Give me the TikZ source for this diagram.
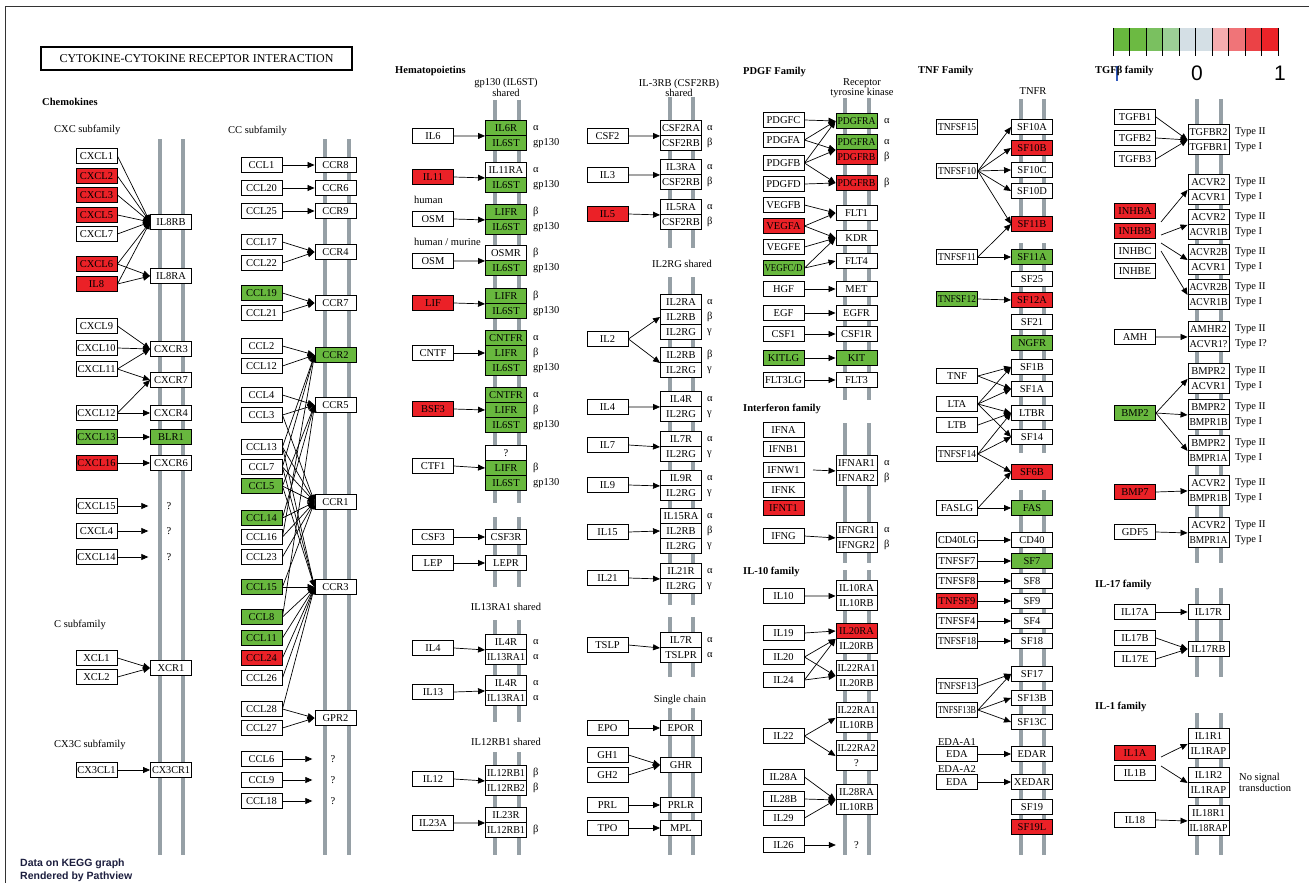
\documentclass[tikz,border=0pt]{standalone}
\usepackage{fontspec}
\setmainfont{Liberation Serif}
\newfontfamily\notefont{Liberation Sans}
\usepackage{graphicx}
\usetikzlibrary{arrows.meta}

\definecolor{up}{RGB}{235,33,39}
\definecolor{dn}{RGB}{104,184,62}
\colorlet{nc}{white}
\definecolor{membrane}{RGB}{150,160,166}
\definecolor{footnav}{RGB}{28,30,62}
\definecolor{legmark}{RGB}{50,90,190}
\definecolor{leg0}{RGB}{104,184,62}
\definecolor{leg1}{RGB}{108,186,66}
\definecolor{leg2}{RGB}{122,192,96}
\definecolor{leg3}{RGB}{156,206,150}
\definecolor{leg4}{RGB}{212,223,229}
\definecolor{leg5}{RGB}{212,223,229}
\definecolor{leg6}{RGB}{245,172,174}
\definecolor{leg7}{RGB}{240,116,120}
\definecolor{leg8}{RGB}{235,66,70}
\definecolor{leg9}{RGB}{235,35,40}

\newsavebox\genelbl
\newcommand\fitlabel[1]{\sbox\genelbl{#1}\ifdim\wd\genelbl>38pt\relax\resizebox{38pt}{\height}{\usebox\genelbl}\else\usebox\genelbl\fi}

\tikzset{
  gene/.style={draw, line width=0.9pt, minimum width=41pt, minimum height=15pt, inner sep=0pt, font=\fontsize{10.5}{11}\selectfont},
  unknown/.style={minimum width=41pt, minimum height=15pt, inner sep=0pt, font=\fontsize{10.5}{11}\selectfont},
  txt/.style={inner sep=0pt, font=\fontsize{10.5}{11}\selectfont},
  family/.style={inner sep=0pt, anchor=west, font=\fontsize{10.5}{11}\selectfont\bfseries},
  conn/.style={line width=0.7pt, -{Triangle[length=7pt,width=6pt]}},
  mem/.style={membrane, line width=4pt},
}

\begin{document}
\begin{tikzpicture}[x=1pt,y=-1pt]
\useasboundingbox (0,0) rectangle (1309,883);
\draw[line width=1pt, black!80] (5,883) -- (5,7) -- (1309,7);

% membranes
\foreach \xl/\xr/\ya/\yb in {160/183/139/855, 325/349/139/855, 495/519/100/503, 495/519/517/587, 495/519/620/722, 495/519/752/855, 670/693/97/248, 670/693/277/605, 670/693/617/677, 670/693/708/855, 845/869/98/400, 845/869/423/563, 845/869/570/855, 1021/1044/99/230, 1021/1044/243/453, 1021/1044/490/855, 1197/1221/99/563, 1197/1221/588/677, 1197/1221/713/855}
  \draw[mem] (\xl,\ya) -- (\xl,\yb) (\xr,\ya) -- (\xr,\yb);

\node[draw, line width=1.6pt, minimum width=311pt, minimum height=23pt, inner sep=0pt, font=\fontsize{12}{13}\selectfont] (title) at (196.5,58.5) {CYTOKINE-CYTOKINE RECEPTOR INTERACTION};

% legend
\foreach \i in {0,...,9}
  \fill[leg\i] ({1113+16.5*\i},28) rectangle ({1129.5+16.5*\i},51);
\foreach \i in {0,...,10}
  \draw[line width=0.8pt] ({1113+16.5*\i},28) -- ({1113+16.5*\i},56);
\draw[line width=1.3pt, legmark] (1117,66) -- (1117,81);
\node[inner sep=0pt, font=\notefont\fontsize{21}{22}\selectfont] (legzero) at (1197,73) {0};
\node[inner sep=0pt, font=\notefont\fontsize{21}{22}\selectfont] (legone) at (1280,73) {1};

% chemokines
\node[family] (chemo) at (42,102) {Chemokines};
\node[txt, anchor=west] (cxcfam) at (54,130) {CXC subfamily};
\node[txt, anchor=west] (cfam) at (54,625) {C subfamily};
\node[txt, anchor=west] (cx3cfam) at (54,745) {CX3C subfamily};
\foreach \nm/\yy/\kk in {CXCL1/156/nc, CXCL2/176/up, CXCL3/195/up, CXCL5/215/up, CXCL7/234/nc, CXCL6/264/up, IL8/284/up, CXCL9/326/nc, CXCL10/348/nc, CXCL11/369/nc, CXCL12/413/nc, CXCL13/437/dn, CXCL16/463/up, CXCL15/506/nc, CXCL4/531/nc, CXCL14/557/nc, XCL1/658/nc, XCL2/677/nc, CX3CL1/770/nc}
  \node[gene, fill=\kk] (\nm) at (96.5,\yy) {\fitlabel{\nm}};
\foreach \nm/\yy/\kk in {IL8RB/222/nc, IL8RA/276/nc, CXCR3/349/nc, CXCR7/380/nc, CXCR4/413/nc, BLR1/437/dn, CXCR6/463/nc, XCR1/668/nc, CX3CR1/770/nc}
  \node[gene, fill=\kk] (\nm) at (171,\yy) {\fitlabel{\nm}};
\foreach \nm/\yy in {cxq1/506, cxq2/531, cxq3/557}
  \node[unknown] (\nm) at (169,\yy) {?};
\foreach \a/\b in {CXCL1/IL8RB, CXCL2/IL8RB, CXCL3/IL8RB, CXCL5/IL8RB, CXCL7/IL8RB, CXCL6/IL8RB, IL8/IL8RB, CXCL6/IL8RA, IL8/IL8RA, CXCL9/CXCR3, CXCL10/CXCR3, CXCL11/CXCR3, CXCL11/CXCR7, CXCL12/CXCR7, CXCL12/CXCR4, CXCL13/BLR1, CXCL16/CXCR6, CXCL15/cxq1, CXCL4/cxq2, CXCL14/cxq3, XCL1/XCR1, XCL2/XCR1, CX3CL1/CX3CR1}
  \draw[conn] (\a.east) -- (\b.west);

% CC subfamily
\node[txt, anchor=west] (ccfam) at (228,131) {CC subfamily};
\foreach \nm/\yy/\kk in {CCL1/165/nc, CCL20/188/nc, CCL25/211/nc, CCL17/242/nc, CCL22/263/nc, CCL19/293/dn, CCL21/313/nc, CCL2/346/nc, CCL12/366/nc, CCL4/395/nc, CCL3/415/nc, CCL13/447/nc, CCL7/467/nc, CCL5/486/dn, CCL14/518/dn, CCL16/537/nc, CCL23/557/nc, CCL15/587/dn, CCL8/617/dn, CCL11/638/dn, CCL24/658/up, CCL26/678/nc, CCL28/709/nc, CCL27/728/nc, CCL6/759/nc, CCL9/780/nc, CCL18/801/nc}
  \node[gene, fill=\kk] (\nm) at (261.5,\yy) {\fitlabel{\nm}};
\foreach \nm/\yy/\kk in {CCR8/165/nc, CCR6/188/nc, CCR9/211/nc, CCR4/252/nc, CCR7/303/nc, CCR2/355/dn, CCR5/405/nc, CCR1/502/nc, CCR3/587/nc, GPR2/718/nc}
  \node[gene, fill=\kk] (\nm) at (335.5,\yy) {\fitlabel{\nm}};
\foreach \nm/\yy in {ccq1/759, ccq2/780, ccq3/801}
  \node[unknown] (\nm) at (333,\yy) {?};
\foreach \a/\b in {CCL1/CCR8, CCL20/CCR6, CCL25/CCR9, CCL17/CCR4, CCL22/CCR4, CCL19/CCR7, CCL21/CCR7, CCL2/CCR2, CCL12/CCR2, CCL13/CCR2, CCL7/CCR2, CCL16/CCR2, CCL4/CCR5, CCL3/CCR5, CCL5/CCR5, CCL8/CCR5, CCL14/CCR5, CCL3/CCR1, CCL13/CCR1, CCL7/CCR1, CCL5/CCR1, CCL14/CCR1, CCL16/CCR1, CCL23/CCR1, CCL15/CCR1, CCL13/CCR3, CCL7/CCR3, CCL5/CCR3, CCL15/CCR3, CCL8/CCR3, CCL11/CCR3, CCL24/CCR3, CCL26/CCR3, CCL28/CCR3, CCL28/GPR2, CCL27/GPR2, CCL6/ccq1, CCL9/ccq2, CCL18/ccq3}
  \draw[conn] (\a.east) -- (\b.west);

% hematopoietins
\node[family] (hemato) at (395,71) {Hematopoietins};
\node[txt] (gpshared) at (506,83) {gp130 (IL6ST)};
\node[txt] (gpshared2) at (506,93) {shared};
\node[txt, anchor=west] (human) at (414,200) {human};
\node[txt, anchor=west] (humur) at (414,242) {human / murine};
\node[txt] (il13sh) at (506,607) {IL13RA1 shared};
\node[txt] (il12sh) at (506,742) {IL12RB1 shared};
\foreach \nm/\yy/\kk/\lab in {IL6/136/nc/IL6, IL11/177/up/IL11, OSMh/219/nc/OSM, OSMm/261/nc/OSM, LIF/303/up/LIF, CNTF/353/nc/CNTF, BSF3/409/up/BSF3, CTF1/466/nc/CTF1, CSF3/537/nc/CSF3, LEP/563/nc/LEP, IL4h/648/nc/IL4, IL13/692/nc/IL13, IL12/779/nc/IL12, IL23A/823/nc/IL23A}
  \node[gene, fill=\kk] (\nm) at (433,\yy) {\fitlabel{\lab}};
\foreach \nm/\yy/\kk/\lab/\sublab in {h1a/128/dn/IL6R/α, h1b/143/dn/IL6ST/gp130, h2a/170/nc/IL11RA/α, h2b/185/dn/IL6ST/gp130, h3a/212/dn/LIFR/β, h3b/227/dn/IL6ST/gp130, h4a/253/nc/OSMR/β, h4b/268/dn/IL6ST/gp130, h5a/296/dn/LIFR/β, h5b/311/dn/IL6ST/gp130, h6a/338/dn/CNTFR/α, h6b/353/dn/LIFR/β, h6c/368/dn/IL6ST/gp130, h7a/395/dn/CNTFR/α, h7b/410/dn/LIFR/β, h7c/425/dn/IL6ST/gp130, h8a/453/nc/?/{}, h8b/468/dn/LIFR/β, h8c/483/dn/IL6ST/gp130, CSF3R/537/nc/CSF3R/{}, LEPR/563/nc/LEPR/{}, h11a/642/nc/IL4R/α, h11b/657/nc/IL13RA1/α, h12a/683/nc/IL4R/α, h12b/698/nc/IL13RA1/α, h13a/773/nc/IL12RB1/β, h13b/788/nc/IL12RB2/β, h14a/815/nc/IL23R/{}, h14b/830/nc/IL12RB1/β}
  {\node[gene, fill=\kk] (\nm) at (506,\yy) {\fitlabel{\lab}};
   \node[txt, anchor=west] (\nm-s) at (533,\yy) {\sublab};}
\foreach \a/\b in {IL6/h1a.south west, IL11/h2a.south west, OSMh/h3a.south west, OSMm/h4a.south west, LIF/h5a.south west, CNTF/h6b.west, BSF3/h7b.west, CTF1/h8b.west, CSF3/CSF3R.west, LEP/LEPR.west, IL4h/h11a.south west, IL13/h12a.south west, IL12/h13a.south west, IL23A/h14a.south west}
  \draw[conn] (\a.east) -- (\b);

% IL-3RB and IL2RG shared
\node[txt] (il3sh) at (679,84) {IL-3RB (CSF2RB)};
\node[txt] (il3sh2) at (679,93) {shared};
\node[txt] (il2sh) at (682,264) {IL2RG shared};
\node[txt] (single) at (680,700) {Single chain};
\foreach \nm/\yy/\kk in {CSF2/136/nc, IL3/175/nc, IL5/214/up, IL2/339/nc, IL4/407/nc, IL7/445/nc, IL9/485/nc, IL15/532/nc, IL21/578/nc, TSLP/645/nc, EPO/728/nc, GH1/755/nc, GH2/775/nc, PRL/805/nc, TPO/828/nc}
  \node[gene, fill=\kk] (\nm) at (607.5,\yy) {\fitlabel{\nm}};
\foreach \nm/\yy/\lab/\sublab in {j1a/128/CSF2RA/α, j1b/143/CSF2RB/β, j2a/167/IL3RA/α, j2b/182/CSF2RB/β, j3a/207/IL5RA/α, j3b/222/CSF2RB/β, j4a/302/IL2RA/α, j4b/317/IL2RB/β, j4c/332/IL2RG/γ, j5a/355/IL2RB/β, j5b/370/IL2RG/γ, j6a/399/IL4R/α, j6b/414/IL2RG/γ, j7a/439/IL7R/α, j7b/454/IL2RG/γ, j8a/478/IL9R/α, j8b/493/IL2RG/γ, j9a/516/IL15RA/α, j9b/531/IL2RB/β, j9c/546/IL2RG/γ, j10a/571/IL21R/α, j10b/586/IL2RG/γ, j11a/640/IL7R/α, j11b/655/TSLPR/α}
  {\node[gene, fill=white] (\nm) at (681,\yy) {\fitlabel{\lab}};
   \node[txt, anchor=west] (\nm-s) at (707,\yy) {\sublab};}
\foreach \nm/\yy in {EPOR/728, GHR/765, PRLR/805, MPL/828}
  \node[gene, fill=white] (\nm) at (681,\yy) {\fitlabel{\nm}};
\foreach \a/\b in {CSF2/j1a.south west, IL3/j2a.south west, IL5/j3a.south west, IL2/j4b.west, IL2/j5a.south west, IL4/j6a.south west, IL7/j7a.south west, IL9/j8a.south west, IL15/j9b.west, IL21/j10a.south west, TSLP/j11a.south west, EPO/EPOR.west, GH1/GHR.west, GH2/GHR.west, PRL/PRLR.west, TPO/MPL.west}
  \draw[conn] (\a.east) -- (\b);

% PDGF, interferon, IL-10
\node[family] (pdgffam) at (743,72) {PDGF Family};
\node[family] (ifnfam) at (743,409) {Interferon family};
\node[family] (il10fam) at (743,572) {IL-10 family};
\node[txt] (rtk) at (862,83) {Receptor};
\node[txt] (rtk2) at (862,93) {tyrosine kinase};
\foreach \nm/\yy/\kk in {PDGFC/120/nc, PDGFA/140/nc, PDGFB/163/nc, PDGFD/184/nc, VEGFB/205/nc, VEGFA/226/up, VEGFE/247/nc, HGF/289/nc, EGF/313/nc, CSF1/334/nc, KITLG/358/dn, FLT3LG/380/nc, IFNA/430/nc, IFNB1/449/nc, IFNW1/470/nc, IFNK/490/nc, IFNT1/508/up, IFNG/536/nc, IL10/596/nc, IL19/633/nc, IL20/657/nc, IL24/680/nc, IL22/736/nc, IL28A/777/nc, IL28B/799/nc, IL29/818/nc, IL26/845/nc}
  \node[gene, fill=\kk] (\nm) at (783.5,\yy) {\fitlabel{\nm}};
\node[gene, fill=dn] (VEGFCD) at (783.5,268) {\fitlabel{VEGFC/D}};
\foreach \nm/\yy/\kk/\lab/\sublab in {p1/121/dn/PDGFRA/α, p2a/142/dn/PDGFRA/α, p2b/157/up/PDGFRB/β, p3/183/up/PDGFRB/β, p4a/463/nc/IFNAR1/α, p4b/478/nc/IFNAR2/β, p5a/530/nc/IFNGR1/α, p5b/545/nc/IFNGR2/β}
  {\node[gene, fill=\kk] (\nm) at (856.5,\yy) {\fitlabel{\lab}};
   \node[txt, anchor=west] (\nm-s) at (884,\yy) {\sublab};}
\foreach \nm/\yy/\kk/\lab in {FLT1/213/nc/FLT1, KDR/238/nc/KDR, FLT4/261/nc/FLT4, MET/289/nc/MET, EGFR/313/nc/EGFR, CSF1R/334/nc/CSF1R, KIT/358/dn/KIT, FLT3/380/nc/FLT3, p6a/588/nc/IL10RA, p6b/603/nc/IL10RB, p7a/631/up/IL20RA, p7b/646/nc/IL20RB, p8a/668/nc/IL22RA1, p8b/683/nc/IL20RB, p9a/710/nc/IL22RA1, p9b/725/nc/IL10RB, p10a/748/nc/IL22RA2, p10b/763/nc/?, p11a/792/nc/IL28RA, p11b/807/nc/IL10RB}
  \node[gene, fill=\kk] (\nm) at (856.5,\yy) {\fitlabel{\lab}};
\node[unknown] (ilq) at (856.5,845) {?};
\coordinate (ifnsrc) at (813,470);
\draw[conn] (ifnsrc) -- (p4a.south west);
\foreach \a/\b in {PDGFC/p1.west, PDGFA/p1.west, PDGFB/p1.west, PDGFA/p2a.south west, PDGFB/p2a.south west, PDGFB/p3.west, PDGFD/p3.west, VEGFB/FLT1.west, VEGFA/FLT1.west, VEGFA/KDR.west, VEGFE/KDR.west, VEGFCD/KDR.west, VEGFCD/FLT4.west, HGF/MET.west, EGF/EGFR.west, CSF1/CSF1R.west, KITLG/KIT.west, FLT3LG/FLT3.west, IFNG/p5a.south west, IL10/p6a.south west, IL19/p7a.west, IL20/p7a.south west, IL20/p8a.south west, IL24/p7a.south west, IL24/p8a.south west, IL22/p9a.south west, IL22/p10a.south west, IL28A/p11a.south west, IL28B/p11a.south west, IL29/p11a.south west, IL26/ilq.west}
  \draw[conn] (\a.east) -- (\b);

% TNF family
\node[family] (tnffam) at (918,71) {TNF Family};
\node[txt] (tnfr) at (1033,91) {TNFR};
\node[txt] (edaa1) at (957,742) {EDA-A1};
\node[txt] (edaa2) at (957,769) {EDA-A2};
\foreach \nm/\yy/\kk/\lab in {TNFSF15/127/nc/TNFSF15, TNFSF10/171/nc/TNFSF10, TNFSF11/257/nc/TNFSF11, TNFSF12/299/dn/TNFSF12, TNF/376/nc/TNF, LTA/404/nc/LTA, LTB/425/nc/LTB, TNFSF14/454/nc/TNFSF14, FASLG/508/nc/FASLG, CD40LG/540/nc/CD40LG, TNFSF7/561/nc/TNFSF7, TNFSF8/581/nc/TNFSF8, TNFSF9/601/up/TNFSF9, TNFSF4/621/nc/TNFSF4, TNFSF18/641/nc/TNFSF18, TNFSF13/686/nc/TNFSF13, TNFSF13B/710/nc/TNFSF13B, EDA1/754/nc/EDA, EDA2/782/nc/EDA}
  \node[gene, fill=\kk] (\nm) at (957,\yy) {\fitlabel{\lab}};
\foreach \nm/\yy/\kk in {SF10A/127/nc, SF10B/148/up, SF10C/170/nc, SF10D/191/nc, SF11B/224/up, SF11A/257/dn, SF25/279/nc, SF12A/300/up, SF21/322/nc, NGFR/343/dn, SF1B/367/nc, SF1A/389/nc, LTBR/413/nc, SF14/437/nc, SF6B/472/up, FAS/508/dn, CD40/540/nc, SF7/561/dn, SF8/581/nc, SF9/601/nc, SF4/621/nc, SF18/641/nc, SF17/674/nc, SF13B/698/nc, SF13C/722/nc, EDAR/754/nc, XEDAR/782/nc, SF19/807/nc, SF19L/827/up}
  \node[gene, fill=\kk] (\nm) at (1032,\yy) {\fitlabel{\nm}};
\foreach \a/\b in {TNFSF10/SF10A, TNFSF10/SF10B, TNFSF10/SF10C, TNFSF10/SF10D, TNFSF10/SF11B, TNFSF11/SF11B, TNFSF11/SF11A, TNFSF12/SF12A, TNF/SF1B, TNF/SF1A, LTA/SF1B, LTA/SF1A, LTA/LTBR, LTA/SF14, LTB/LTBR, TNFSF14/LTBR, TNFSF14/SF14, TNFSF14/SF6B, FASLG/SF6B, FASLG/FAS, CD40LG/CD40, TNFSF7/SF7, TNFSF8/SF8, TNFSF9/SF9, TNFSF4/SF4, TNFSF18/SF18, TNFSF13/SF17, TNFSF13B/SF17, TNFSF13B/SF13B, TNFSF13B/SF13C, EDA1/EDAR, EDA2/XEDAR}
  \draw[conn] (\a.east) -- (\b.west);

% TGF-beta, IL-17, IL-1
\node[family] (tgffam) at (1095,71) {TGFβ family};
\node[family] (il17fam) at (1095,585) {IL-17 family};
\node[family] (il1fam) at (1095,707) {IL-1 family};
\node[txt, anchor=west] (nosig) at (1239,778) {No signal};
\node[txt, anchor=west] (nosig2) at (1239,788) {transduction};
\foreach \nm/\yy/\kk in {TGFB1/117/nc, TGFB2/138/nc, TGFB3/159/nc, INHBA/211/up, INHBB/231/up, INHBC/251/nc, INHBE/271/nc, AMH/337/nc, BMP2/413/dn, BMP7/492/up, GDF5/532/nc, IL17A/612/nc, IL17B/638/nc, IL17E/659/nc, IL1A/753/up, IL1B/773/nc, IL18/820/nc}
  \node[gene, fill=\kk] (\nm) at (1135,\yy) {\fitlabel{\nm}};
\foreach \nm/\yy/\lab/\sublab in {t1a/132/TGFBR2/Type II, t1b/147/TGFBR1/Type I, t2a/182/ACVR2/Type II, t2b/197/ACVR1/Type I, t3a/217/ACVR2/Type II, t3b/232/ACVR1B/Type I, t4a/252/ACVR2B/Type II, t4b/267/ACVR1/Type I, t5a/287/ACVR2B/Type II, t5b/302/ACVR1B/Type I, t6a/329/AMHR2/Type II, t6b/344/ACVR1?/Type I?, t7a/371/BMPR2/Type II, t7b/386/ACVR1/Type I, t8a/407/BMPR2/Type II, t8b/422/BMPR1B/Type I, t9a/443/BMPR2/Type II, t9b/458/BMPR1A/Type I, t10a/483/ACVR2/Type II, t10b/498/BMPR1B/Type I, t11a/525/ACVR2/Type II, t11b/540/BMPR1A/Type I}
  {\node[gene, fill=white] (\nm) at (1208.5,\yy) {\fitlabel{\lab}};
   \node[txt, anchor=west] (\nm-s) at (1235,\yy) {\sublab};}
\foreach \nm/\yy/\lab in {IL17R/612/IL17R, IL17RB/649/IL17RB, t12a/736/IL1R1, t12b/751/IL1RAP, t13a/775/IL1R2, t13b/790/IL1RAP, t14a/813/IL18R1, t14b/828/IL18RAP}
  \node[gene, fill=white] (\nm) at (1208.5,\yy) {\fitlabel{\lab}};
\coordinate (inh1) at (1161,222);
\coordinate (inh2) at (1161,235);
\coordinate (inh3) at (1161,243);
\coordinate (inh4) at (1161,251);
\coordinate (ilone1) at (1161,757);
\coordinate (ilone2) at (1161,766);
\draw[conn] (inh1) -- (t2a.south west);
\draw[conn] (inh2) -- (t3a.south west);
\draw[conn] (inh3) -- (t4a.south west);
\draw[conn] (inh4) -- (t5a.south west);
\draw[conn] (ilone1) -- (t12a.south west);
\draw[conn] (ilone2) -- (t13a.south west);
\foreach \a/\b in {TGFB1/t1a.south west, TGFB2/t1a.south west, TGFB3/t1a.south west, AMH/t6a.south west, BMP2/t7a.south west, BMP2/t8a.south west, BMP2/t9a.south west, BMP7/t10a.south west, GDF5/t11a.south west, IL17A/IL17R.west, IL17B/IL17RB.west, IL17E/IL17RB.west, IL18/t14a.south west}
  \draw[conn] (\a.east) -- (\b);

\node[anchor=west, inner sep=0pt, text=footnav, font=\notefont\bfseries\fontsize{10.5}{11}\selectfont] (foot1) at (20,864) {Data on KEGG graph};
\node[anchor=west, inner sep=0pt, text=footnav, font=\notefont\bfseries\fontsize{10.5}{11}\selectfont] (foot2) at (20,877) {Rendered by Pathview};
\end{tikzpicture}
\end{document}
